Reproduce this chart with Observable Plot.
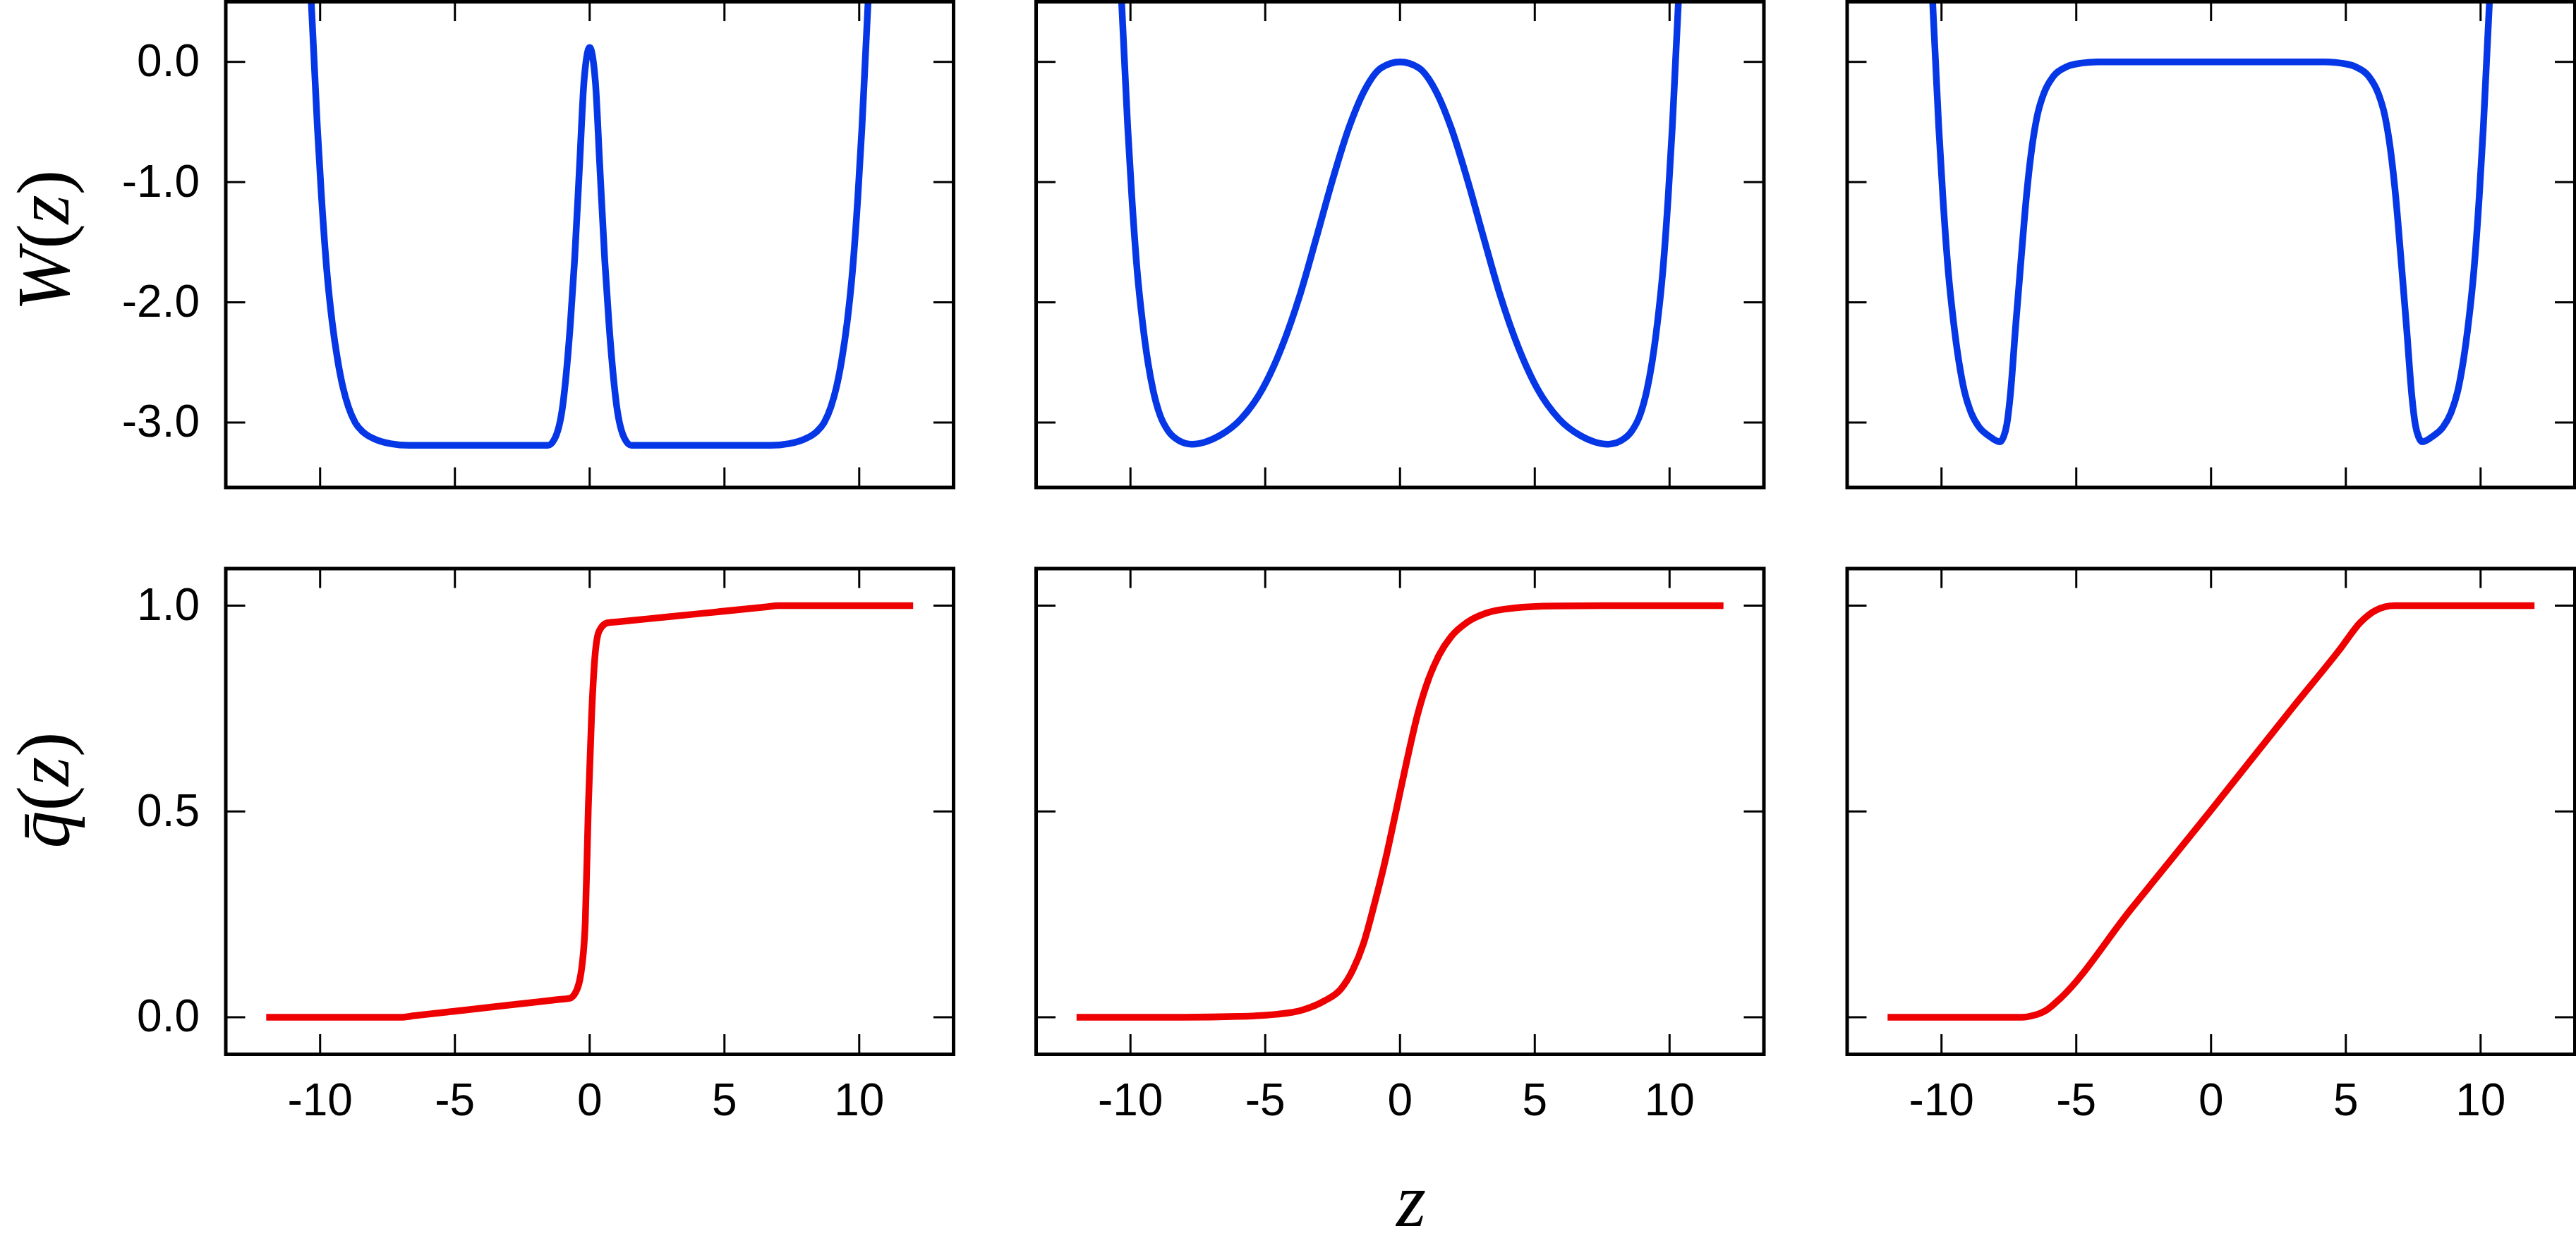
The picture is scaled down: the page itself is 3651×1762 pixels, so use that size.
<!DOCTYPE html>
<html><head><meta charset="utf-8">
<script src="https://cdn.jsdelivr.net/npm/d3@7"></script>
<script src="https://cdn.jsdelivr.net/npm/@observablehq/plot@0.6"></script>
<style>
html,body{margin:0;padding:0;background:#fff;}
#chart{position:relative;width:3651px;height:1762px;overflow:hidden;background:#fff;}
#chart svg{position:absolute;left:0;top:0;max-width:none !important;}
</style></head><body><div id="chart"></div>
<script>
// ---- tick values ----
const xTicks = [-10, -5, 0, 5, 10];
const wTicks = [0, -1, -2, -3];
const qTicks = [0, 0.5, 1];

// ---- W(z), panel 1 ----
const zW1 = [-10.34, -10.22, -10.1, -9.95, -9.75, -9.55, -9.35, -9.15, -8.95, -8.7, -8.4, -8.0, -7.4, -6.7, -4.0,
             -1.55, -1.31, -1.0, -0.72, -0.56, -0.37, -0.21, 0, 0.21, 0.37, 0.56, 0.72, 1.0, 1.31, 1.55,
             4.0, 6.7, 7.4, 8.0, 8.4, 8.7, 8.95, 9.15, 9.35, 9.55, 9.75, 9.95, 10.1, 10.22, 10.34];
const W1  = [0.55, 0, -0.55, -1.12, -1.74, -2.17, -2.48, -2.71, -2.87, -3.0, -3.08, -3.135, -3.175, -3.19, -3.19,
             -3.19, -3.14, -2.86, -2.19, -1.65, -0.84, -0.16, 0.12, -0.16, -0.84, -1.65, -2.19, -2.86, -3.14, -3.19,
             -3.19, -3.19, -3.175, -3.135, -3.08, -3.0, -2.87, -2.71, -2.48, -2.17, -1.74, -1.12, -0.55, 0, 0.55];

// ---- W(z), panel 2 ----
const zW2 = [-10.34, -10.22, -10.1, -9.95, -9.75, -9.55, -9.35, -9.15, -8.9, -8.6, -8.2, -7.72, -7.2, -6.7, -5.9, -5.1,
             -4.4, -3.7, -3.1, -2.5, -1.9, -1.3, -0.7, 0, 0.7, 1.3, 1.9, 2.5, 3.1, 3.7, 4.4,
             5.1, 5.9, 6.7, 7.2, 7.72, 8.2, 8.6, 8.9, 9.15, 9.35, 9.55, 9.75, 9.95, 10.1, 10.22, 10.34];
const W2  = [0.55, 0, -0.55, -1.12, -1.74, -2.17, -2.5, -2.74, -2.94, -3.07, -3.15, -3.18, -3.16, -3.11, -2.97, -2.72,
             -2.38, -1.93, -1.46, -0.98, -0.55, -0.23, -0.05, 0, -0.05, -0.23, -0.55, -0.98, -1.46, -1.93, -2.38,
             -2.72, -2.97, -3.11, -3.16, -3.18, -3.15, -3.07, -2.94, -2.74, -2.5, -2.17, -1.74, -1.12, -0.55, 0, 0.55];

// ---- W(z), panel 3 ----
const zW3 = [-10.34, -10.22, -10.1, -9.95, -9.75, -9.55, -9.35, -9.15, -8.9, -8.6, -8.25, -7.84, -7.7, -7.58, -7.45, -7.25, -7.05,
             -6.85, -6.65, -6.45, -6.2, -5.85, -5.35, -4.8, -4.2, 4.2, 4.8, 5.35, 5.85, 6.2, 6.45, 6.65, 6.85,
             7.05, 7.25, 7.45, 7.58, 7.7, 7.84, 8.25, 8.6, 8.9, 9.15, 9.35, 9.55, 9.75, 9.95, 10.1, 10.22, 10.34];
const W3  = [0.55, 0, -0.55, -1.12, -1.74, -2.17, -2.5, -2.74, -2.92, -3.04, -3.11, -3.16, -3.12, -3.02, -2.78, -2.2, -1.65,
             -1.12, -0.72, -0.45, -0.26, -0.12, -0.04, -0.01, 0, 0, -0.01, -0.04, -0.12, -0.26, -0.45, -0.72, -1.12,
             -1.65, -2.2, -2.78, -3.02, -3.12, -3.16, -3.11, -3.04, -2.92, -2.74, -2.5, -2.17, -1.74, -1.12, -0.55, 0, 0.55];

// ---- q̄(z), panel 1 ----
const zQ1 = [-12, -7, -6.5, -3, -1.2, -0.75, -0.51, -0.28, -0.16, -0.05, 0.07, 0.19, 0.35, 0.65, 1.1, 3, 6.5, 7, 12];
const Q1  = [0, 0, 0.0037, 0.0294, 0.0427, 0.046, 0.062, 0.128, 0.237, 0.51, 0.73, 0.872, 0.938, 0.958, 0.961, 0.9735, 0.9966, 1, 1];

// ---- q̄(z), panel 2 ----
const zQ2 = [-12, -8, -6, -4.6, -3.6, -2.8, -2.2, -1.75, -1.35, -0.95, -0.55, -0.15, 0.25, 0.65, 1.05, 1.45, 1.9, 2.5, 3.2, 4.2, 5.7, 8, 12];
const Q2  = [0, 0, 0.002, 0.007, 0.018, 0.04, 0.068, 0.115, 0.18, 0.275, 0.38, 0.5, 0.622, 0.735, 0.82, 0.88, 0.925, 0.96, 0.982, 0.994, 0.999, 1, 1];

// ---- q̄(z), panel 3 ----
const zQ3 = [-12, -7.02, -6.55, -6.07, -5.59, -3, 0, 3, 4.78, 5.55, 6.12, 6.8, 12];
const Q3  = [0, 0, 0.005, 0.019, 0.046, 0.26, 0.503, 0.75, 0.894, 0.96, 0.989, 1, 1];

// ---- labels ----
const labelW = ["W", "(", "z", ")"];
const labelQ = ["q\u0304", "(", "z", ")"];
const labelZ = "z";

// ---- layout ----
const FW = 3651, FH = 1762;
const colLeft = [319.5, 1468, 2617.5], panelW = 1031.5;
const rowTop = [2, 805.5], panelH = 688.5;
const BLUE = "#0537e6", RED = "#ee0000";
const TICK = 28;

function panel(row, col, zs, vs, color, yDomain, yTicks) {
  const marks = [
    Plot.tickX(xTicks, {x: d => d, insetTop: panelH - TICK, stroke: "black", strokeWidth: 3}),
    Plot.tickX(xTicks, {x: d => d, insetBottom: panelH - TICK, stroke: "black", strokeWidth: 3}),
    Plot.tickY(yTicks, {y: d => d, insetRight: panelW - TICK, stroke: "black", strokeWidth: 3}),
    Plot.tickY(yTicks, {y: d => d, insetLeft: panelW - TICK, stroke: "black", strokeWidth: 3}),
    Plot.line(vs, {x: zs, y: vs, stroke: color, strokeWidth: 9.5, curve: "monotone-x", clip: true,
                   strokeLinecap: "butt", strokeLinejoin: "round"}),
    Plot.frame({stroke: "black", strokeWidth: 5})
  ];
  if (row === 1) marks.push(Plot.text(xTicks, {x: d => d, frameAnchor: "bottom", dy: 41, lineAnchor: "top",
                                               text: d => String(d), fontSize: 64}));
  if (col === 0) marks.push(Plot.text(yTicks, {y: d => d, frameAnchor: "left", dx: -37, textAnchor: "end",
                                               text: d => d.toFixed(1), fontSize: 64}));
  return Plot.plot({
    width: FW, height: FH,
    marginLeft: colLeft[col], marginRight: FW - colLeft[col] - panelW,
    marginTop: rowTop[row], marginBottom: FH - rowTop[row] - panelH,
    x: {domain: [-13.5, 13.5], axis: null},
    y: {domain: yDomain, axis: null},
    style: {background: "transparent", fontFamily: "'Liberation Sans', Arial, sans-serif", color: "black"},
    marks
  });
}

const chart = document.getElementById("chart");
const wDom = [-3.54, 0.5], qDom = [-0.09, 1.09];
chart.appendChild(panel(0, 0, zW1, W1, BLUE, wDom, wTicks));
chart.appendChild(panel(0, 1, zW2, W2, BLUE, wDom, wTicks));
chart.appendChild(panel(0, 2, zW3, W3, BLUE, wDom, wTicks));
chart.appendChild(panel(1, 0, zQ1, Q1, RED, qDom, qTicks));
chart.appendChild(panel(1, 1, zQ2, Q2, RED, qDom, qTicks));
chart.appendChild(panel(1, 2, zQ3, Q3, RED, qDom, qTicks));

// ---- axis titles ----
const svg = d3.select("#chart").append("svg").attr("width", FW).attr("height", FH)
  .style("background", "transparent")
  .attr("font-family", "'Liberation Serif', 'Times New Roman', serif").attr("font-size", 106).attr("fill", "black");
function mathLabel(g, parts) {
  parts.forEach((p, i) => {
    const t = g.append("tspan").text(p);
    if (i === 0 || i === 2) t.attr("font-style", "italic");
  });
}
mathLabel(svg.append("text").attr("text-anchor", "middle").attr("transform", "translate(97,341) rotate(-90)"), labelW);
mathLabel(svg.append("text").attr("text-anchor", "middle").attr("transform", "translate(97,1120) rotate(-90)"), labelQ);
svg.append("text").attr("text-anchor", "middle").attr("x", 2000).attr("y", 1738).attr("font-size", 108)
  .attr("font-style", "italic").text(labelZ);
</script></body></html>
